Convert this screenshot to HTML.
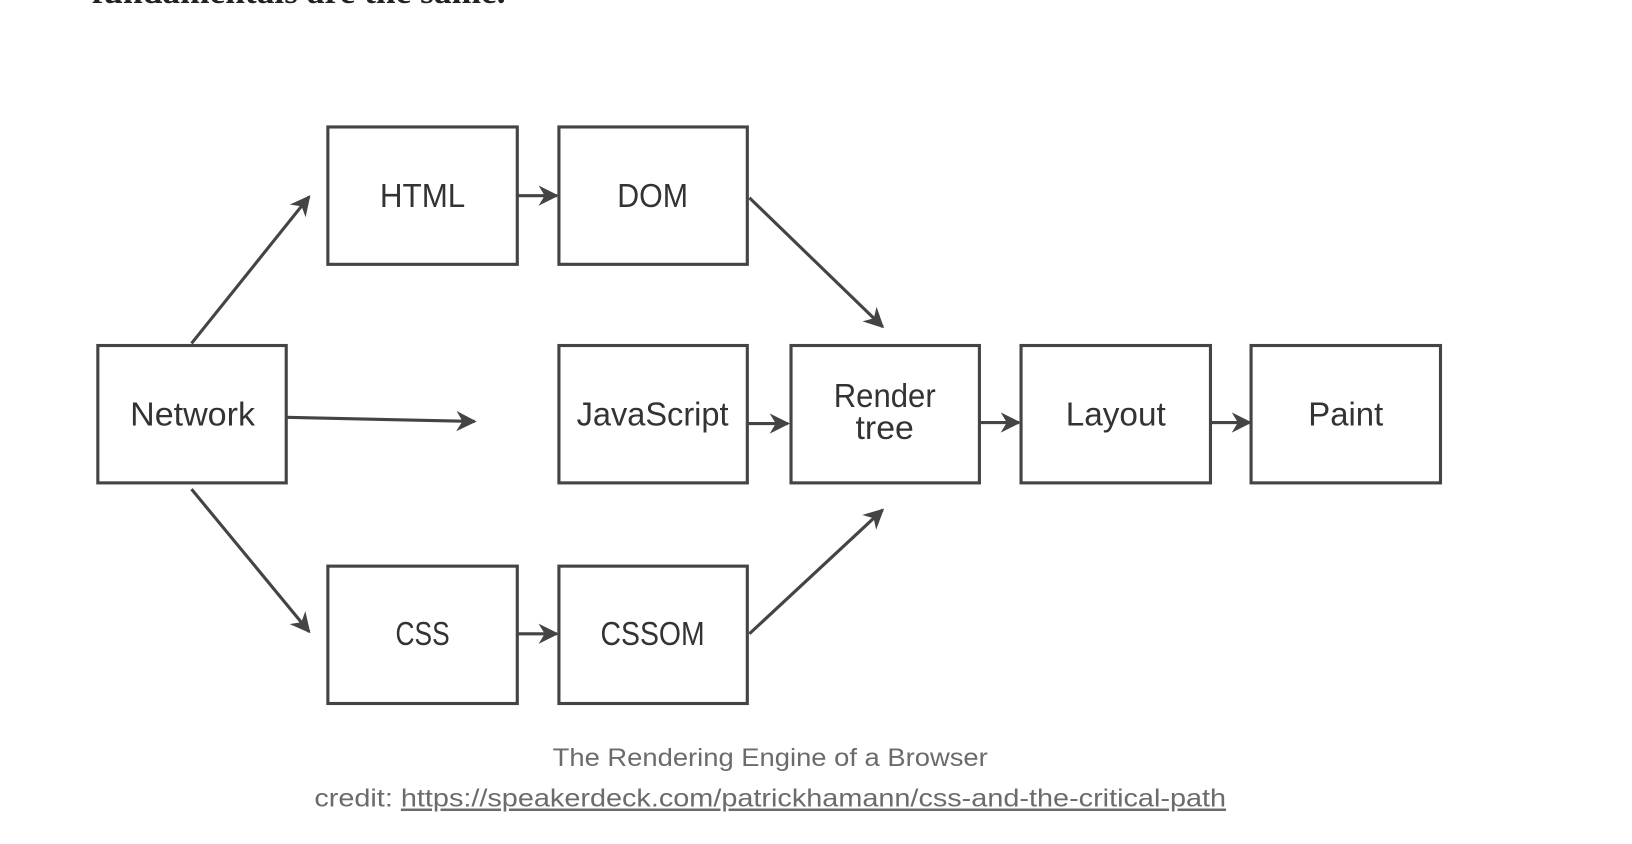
<!DOCTYPE html>
<html><head><meta charset="utf-8"><style>
html,body{margin:0;padding:0;background:#fff;width:1632px;height:844px;overflow:hidden}
svg{display:block}
</style></head><body>
<svg width="1632" height="844" viewBox="0 0 1568 811" preserveAspectRatio="none" xmlns="http://www.w3.org/2000/svg">
<defs>
<marker id="a" viewBox="0 0 10 10" refX="9" refY="5" markerWidth="6.5" markerHeight="6.5" orient="auto" markerUnits="strokeWidth">
<path d="M0,0 L10,5 L0,10 L3,5 z" fill="#444"/></marker>
</defs>
<text x="88" y="3" font-family="Liberation Serif, serif" font-weight="bold" font-size="34" fill="#222">fundamentals are the same.</text>
<g fill="#fff" stroke="#444" stroke-width="3">
<rect x="315" y="122" width="182" height="132"/>
<rect x="537" y="122" width="181" height="132"/>
<rect x="94" y="332" width="181" height="132"/>
<rect x="537" y="332" width="181" height="132"/>
<rect x="760" y="332" width="181" height="132"/>
<rect x="981" y="332" width="182" height="132"/>
<rect x="1202" y="332" width="182" height="132"/>
<rect x="315" y="544" width="182" height="132"/>
<rect x="537" y="544" width="181" height="132"/>
</g>
<g stroke="#444" stroke-width="3" fill="none" marker-end="url(#a)">
<line x1="184" y1="330" x2="297" y2="189"/>
<line x1="720" y1="190" x2="848" y2="314"/>
<line x1="275" y1="401" x2="456" y2="405"/>
<line x1="718" y1="407" x2="757" y2="407"/>
<line x1="941" y1="406" x2="979" y2="406"/>
<line x1="1163" y1="406" x2="1201" y2="406"/>
<line x1="497" y1="188" x2="535" y2="188"/>
<line x1="497" y1="609" x2="535" y2="609"/>
<line x1="184" y1="470" x2="297" y2="607"/>
<line x1="720" y1="609" x2="848" y2="490"/>
</g>
<g font-family="Liberation Sans, sans-serif" font-size="32" fill="#333" text-anchor="middle">
<text x="406" y="199" textLength="82" lengthAdjust="spacingAndGlyphs">HTML</text>
<text x="627" y="199" textLength="68" lengthAdjust="spacingAndGlyphs">DOM</text>
<text x="185" y="409" textLength="120" lengthAdjust="spacingAndGlyphs">Network</text>
<text x="627" y="409" textLength="146" lengthAdjust="spacingAndGlyphs">JavaScript</text>
<text x="850" y="391" textLength="98" lengthAdjust="spacingAndGlyphs">Render</text>
<text x="850" y="422" textLength="56" lengthAdjust="spacingAndGlyphs">tree</text>
<text x="1072" y="409" textLength="96" lengthAdjust="spacingAndGlyphs">Layout</text>
<text x="1293" y="409" textLength="72" lengthAdjust="spacingAndGlyphs">Paint</text>
<text x="406" y="620" textLength="52" lengthAdjust="spacingAndGlyphs">CSS</text>
<text x="627" y="620" textLength="100" lengthAdjust="spacingAndGlyphs">CSSOM</text>
</g>
<g font-family="Liberation Sans, sans-serif" font-size="24" fill="#6b6b6b">
<text x="740" y="736" text-anchor="middle" textLength="418" lengthAdjust="spacingAndGlyphs">The Rendering Engine of a Browser</text>
<text x="302" y="775" textLength="876" lengthAdjust="spacingAndGlyphs">credit: <tspan text-decoration="underline">https://speakerdeck.com/patrickhamann/css-and-the-critical-path</tspan></text>
</g>
</svg>
</body></html>
